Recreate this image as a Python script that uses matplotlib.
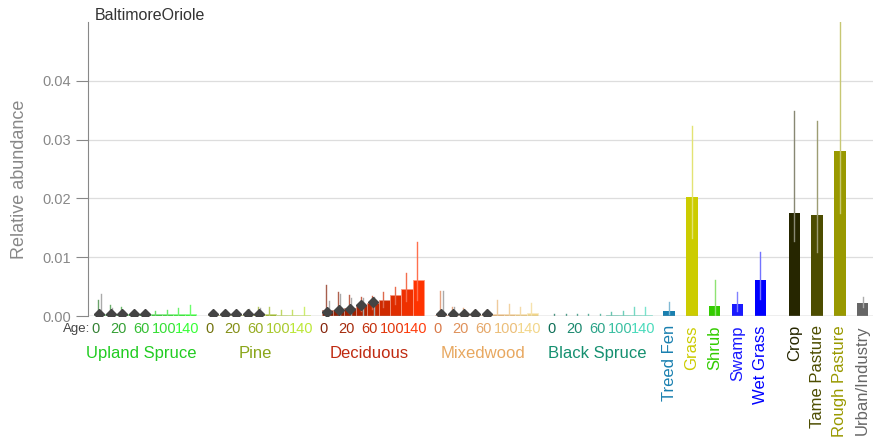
import numpy as np
import matplotlib
matplotlib.use('Agg')
import matplotlib.pyplot as plt
from matplotlib.colors import to_rgb
import matplotlib.transforms as mtransforms

plt.rcParams['font.family'] = ['Liberation Sans', 'DejaVu Sans']

# Forest types: 9 age classes each (0,10,20,40,60,80,100,120,140)
forest_names = ['Upland Spruce', 'Pine', 'Deciduous', 'Mixedwood', 'Black Spruce']
age_labels = ['0', '20', '60', '100', '140']

us_mean = [0.0003, 0.0004, 0.0004, 0.0003, 0.0003, 0.0003, 0.0003, 0.0003, 0.0004]
us_hi = [0.0027, 0.0019, 0.0015, 0.0007, 0.0006, 0.0009, 0.0011, 0.0014, 0.0018]
us_lo = [0.0, 0.0001, 0.0001, 0.0001, 0.0001, 0.0001, 0.0001, 0.0001, 0.0001]

pine_mean = [0.0001, 0.0001, 0.0001, 0.0002, 0.0003, 0.0003, 0.0002, 0.0002, 0.0002]
pine_hi = [0.0003, 0.0003, 0.0004, 0.0011, 0.0015, 0.0015, 0.0010, 0.0011, 0.0016]
pine_lo = [0.0, 0.0, 0.0, 0.0, 0.0001, 0.0001, 0.0, 0.0, 0.0]

dec_mean = [0.0010, 0.0011, 0.0014, 0.0018, 0.0022, 0.0028, 0.0036, 0.0046, 0.0061]
dec_hi = [0.0052, 0.0041, 0.0035, 0.0032, 0.0034, 0.0040, 0.0049, 0.0073, 0.0126]
dec_lo = [0.0002, 0.0003, 0.0005, 0.0008, 0.0012, 0.0016, 0.0020, 0.0026, 0.0027]

mix_mean = [0.0001, 0.0002, 0.0002, 0.0002, 0.0002, 0.0004, 0.0004, 0.0003, 0.0005]
mix_hi = [0.0043, 0.0016, 0.0013, 0.0011, 0.0011, 0.0028, 0.0021, 0.0015, 0.0022]
mix_lo = [0.0, 0.0, 0.0, 0.0, 0.0, 0.0001, 0.0001, 0.0, 0.0001]

bs_mean = [0.0, 0.0, 0.0, 0.0, 0.0, 0.0001, 0.0001, 0.0002, 0.0002]
bs_hi = [0.0003, 0.0003, 0.0003, 0.0003, 0.0004, 0.0006, 0.0008, 0.0016, 0.0016]
bs_lo = [0.0, 0.0, 0.0, 0.0, 0.0, 0.0, 0.0, 0.0, 0.0]

# diamond estimates for the first five age classes (no Black Spruce)
us_pt = [0.0004, 0.0004, 0.0004, 0.0004, 0.0004]
us_pt_hi = [0.0037, 0.0014, 0.0009, 0.0008, 0.0007]
pine_pt = [0.0004, 0.0004, 0.0004, 0.0004, 0.0004]
pine_pt_hi = [0.0006, 0.0006, 0.0007, 0.0012, 0.0013]
dec_pt = [0.0007, 0.0010, 0.0012, 0.0018, 0.0023]
dec_pt_hi = [0.0026, 0.0038, 0.0030, 0.0030, 0.0032]
mix_pt = [0.0003, 0.0003, 0.0003, 0.0003, 0.0003]
mix_pt_hi = [0.0043, 0.0016, 0.0006, 0.0005, 0.0006]

# non-forest habitats
other_names = ['Treed Fen', 'Grass', 'Shrub', 'Swamp', 'Wet Grass',
               'Crop', 'Tame Pasture', 'Rough Pasture', 'Urban/Industry']
other_mean = [0.00085, 0.0203, 0.0017, 0.0020, 0.0061, 0.0175, 0.0172, 0.0280, 0.0022]
other_hi = [0.0024, 0.0323, 0.0062, 0.0041, 0.0108, 0.0348, 0.0332, 0.0520, 0.0032]
other_lo = [0.0003, 0.0132, 0.0002, 0.0008, 0.0029, 0.0127, 0.0109, 0.0176, 0.0015]

forest_cols = [('#2a7a2a', '#2bff2b'), ('#6b6b00', '#b8e62e'), ('#801a00', '#ff3300'),
               ('#d97a4a', '#f2d68a'), ('#00664d', '#40d9b8')]
forest_label_cols = ['#22cc22', '#8aa61a', '#c02a10', '#e8a860', '#159070']
other_cols = ['#1a80b0', '#cccc00', '#33cc00', '#1a1aff', '#0000ff',
              '#262600', '#4d4d00', '#999900', '#666666']
other_pos = [50, 52, 54, 56, 58, 61, 63, 65, 67]


def shade(c0, c1, n):
    a, b = np.array(to_rgb(c0)), np.array(to_rgb(c1))
    return [tuple(a + (b - a) * i / (n - 1)) for i in range(n)]


def lighter(c, f=0.4):
    c = np.array(to_rgb(c))
    return tuple(c + (1 - c) * f)


fig = plt.figure(figsize=(8.73, 4.4), dpi=100)
ax = fig.add_axes([88 / 873, 1 - 316 / 440, 1 - 88 / 873, 294 / 440])

for v in [0.01, 0.02, 0.03, 0.04]:
    ax.axhline(v, color='#dddddd', lw=0.9, zorder=0)
ax.axhline(0, color='#aaaaaa', lw=1.0, zorder=5)

means = [us_mean, pine_mean, dec_mean, mix_mean, bs_mean]
his = [us_hi, pine_hi, dec_hi, mix_hi, bs_hi]
los = [us_lo, pine_lo, dec_lo, mix_lo, bs_lo]
pts = [us_pt, pine_pt, dec_pt, mix_pt, None]
pts_hi = [us_pt_hi, pine_pt_hi, dec_pt_hi, mix_pt_hi, None]

trans = mtransforms.blended_transform_factory(ax.transData, ax.transAxes)

for g in range(5):
    x = np.arange(9) + g * 10
    cols = shade(forest_cols[g][0], forest_cols[g][1], 9)
    ax.bar(x, means[g], width=1.0, color=cols, edgecolor=[lighter(c, 0.5) for c in cols],
           linewidth=0.6, zorder=2)
    for i in range(9):
        ax.plot([x[i] - 0.08, x[i] - 0.08], [los[g][i], his[g][i]],
                color=lighter(cols[i], 0.3), lw=1.0, zorder=3)
    if pts[g] is not None:
        for i in range(5):
            ax.plot([x[i] + 0.12, x[i] + 0.12], [0, pts_hi[g][i]],
                    color='#aaaaaa', lw=1.0, zorder=3)
        ax.plot(x[:5], pts[g], linestyle='none', marker='D', markersize=4.8,
                color='#444444', zorder=6)
    # age tick labels
    for j, lab in enumerate(age_labels):
        ax.text(x[j * 2] - 0.3, -0.044, lab, transform=trans, ha='center', va='center',
                fontsize=10.5, color=lighter(cols[j * 2], 0.05) if g != 3 else cols[j * 2])
    ax.text(x[4] - 0.3, -0.129, forest_names[g], transform=trans, ha='center', va='center',
            fontsize=12, color=forest_label_cols[g])

ax.text(-0.8, -0.044, 'Age:', transform=trans, ha='right', va='center',
        fontsize=9.5, color='#444444')

ax.bar(other_pos, other_mean, width=1.0, color=other_cols, zorder=2)
for i in range(len(other_pos)):
    ax.plot([other_pos[i], other_pos[i]], [other_lo[i], other_hi[i]],
            color=lighter(other_cols[i], 0.45), lw=1.0, zorder=3)
    ax.text(other_pos[i], -0.031, other_names[i], transform=trans, rotation=90,
            ha='center', va='top', fontsize=12, color=other_cols[i])

ax.set_xlim(-1, 67.9)
ax.set_ylim(0, 0.05)
ax.set_yticks([0.0, 0.01, 0.02, 0.03, 0.04])
ax.set_yticklabels(['0.00', '0.01', '0.02', '0.03', '0.04'])
ax.tick_params(axis='y', colors='#888888', labelsize=10.5, length=9, width=0.8, pad=3)
ax.tick_params(axis='x', bottom=False, labelbottom=False)
for s in ['top', 'right', 'bottom']:
    ax.spines[s].set_visible(False)
ax.spines['left'].set_color('#888888')
ax.spines['left'].set_linewidth(0.8)
ax.set_ylabel('Relative abundance', fontsize=13, color='#888888')
ax.yaxis.set_label_coords(-60 / 785, 0.466)

fig.text(95 / 873, 1 - 15 / 440, 'BaltimoreOriole', ha='left', va='center',
         fontsize=11.5, color='#333333')

fig.savefig('out.png', dpi=100)
